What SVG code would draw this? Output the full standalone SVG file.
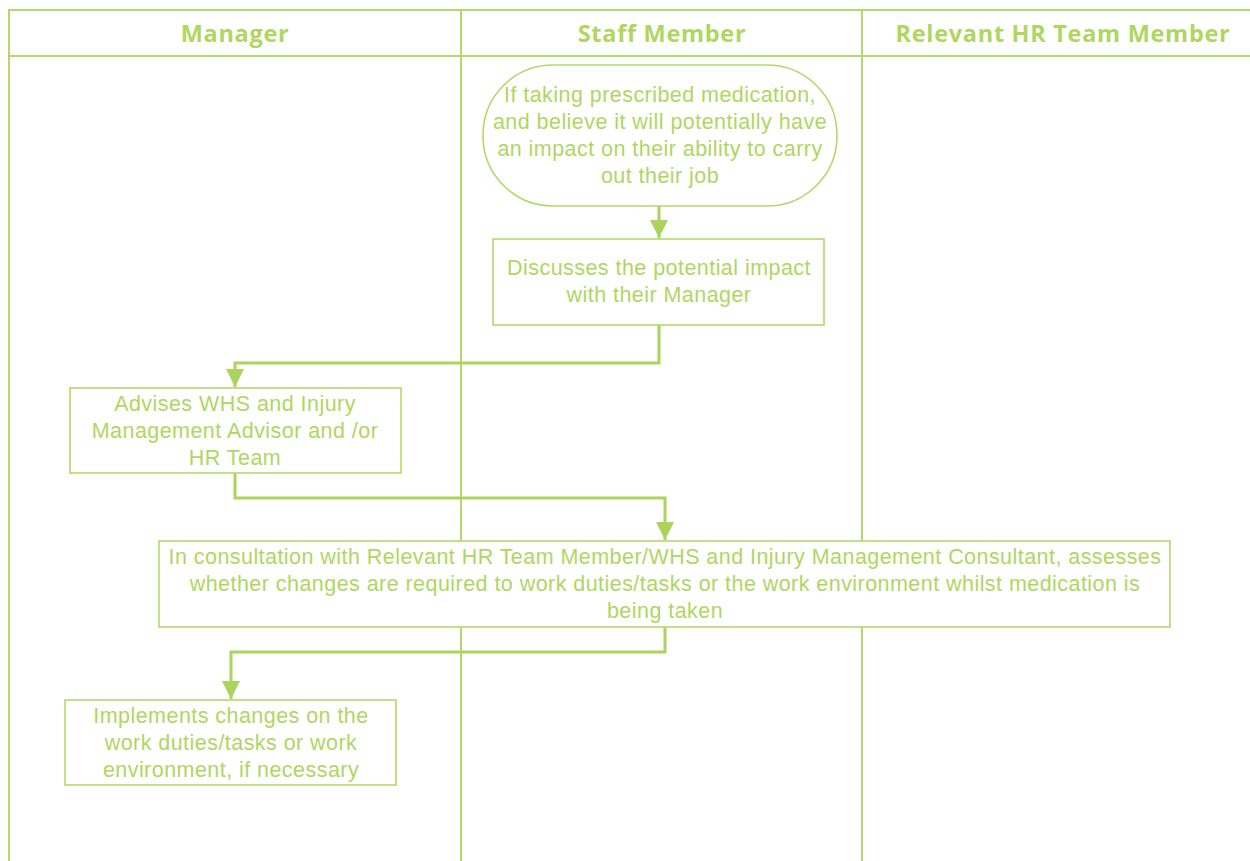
<svg xmlns="http://www.w3.org/2000/svg" width="1250" height="861" viewBox="0 0 1250 861">
<defs>
<style>
.lane{fill:none;stroke:#b3d96b;stroke-width:2}
.node{fill:#fff;stroke:#b3d96b;stroke-width:1.6}
.hdr{font-family:"Open Sans","Liberation Sans",sans-serif;font-weight:bold;font-size:23.5px;letter-spacing:0.7px;fill:#b0d662;text-anchor:middle}
.txt{font-family:"Liberation Sans","DejaVu Sans",sans-serif;font-size:21.5px;letter-spacing:0.45px;fill:#b0d662;text-anchor:middle}
.conn{fill:none;stroke:#acd35c;stroke-width:3}
</style>
<marker id="ah" viewBox="0 0 10 10" refX="10" refY="5" markerWidth="6" markerHeight="6" markerUnits="strokeWidth" orient="auto">
<path d="M0,0 L10,5 L0,10 Z" fill="#acd35c"/>
</marker>
</defs>
<rect width="1250" height="861" fill="#fff"/>
<g id="lanes">
<path class="lane" d="M9,861 V10 H1250 M9,56 H1250 M461,10 V861 M862,10 V861"/>
<text class="hdr" x="235" y="42">Manager</text>
<text class="hdr" x="662" y="42">Staff Member</text>
<text class="hdr" x="1063" y="42">Relevant HR Team Member</text>
</g>
<g id="connectors">
<path class="conn" d="M659,206 V238" marker-end="url(#ah)"/>
<path class="conn" d="M659,325 V363 H235 V387" marker-end="url(#ah)"/>
<path class="conn" d="M235,473 V498 H665 V540" marker-end="url(#ah)"/>
<path class="conn" d="M665,627 V652 H231 V699" marker-end="url(#ah)"/>
</g>
<g id="start">
<rect class="node" x="483" y="65" width="354" height="141" rx="70" ry="70"/>
<text class="txt" x="660" y="102">If taking prescribed medication,</text>
<text class="txt" x="660" y="129">and believe it will potentially have</text>
<text class="txt" x="660" y="156">an impact on their ability to carry</text>
<text class="txt" x="660" y="183">out their job</text>
</g>
<g id="discuss">
<rect class="node" x="493" y="239" width="331" height="86"/>
<text class="txt" x="659" y="275">Discusses the potential impact</text>
<text class="txt" x="659" y="302">with their Manager</text>
</g>
<g id="advise">
<rect class="node" x="70" y="388" width="331" height="85"/>
<text class="txt" x="235" y="411">Advises WHS and Injury</text>
<text class="txt" x="235" y="438">Management Advisor and /or</text>
<text class="txt" x="235" y="465">HR Team</text>
</g>
<g id="assess">
<rect class="node" x="159" y="541" width="1011" height="86"/>
<text class="txt" x="665" y="564">In consultation with Relevant HR Team Member/WHS and Injury Management Consultant, assesses</text>
<text class="txt" x="665" y="591">whether changes are required to work duties/tasks or the work environment whilst medication is</text>
<text class="txt" x="665" y="618">being taken</text>
</g>
<g id="implement">
<rect class="node" x="65" y="700" width="331" height="85"/>
<text class="txt" x="231" y="723">Implements changes on the</text>
<text class="txt" x="231" y="750">work duties/tasks or work</text>
<text class="txt" x="231" y="777">environment, if necessary</text>
</g>
</svg>
